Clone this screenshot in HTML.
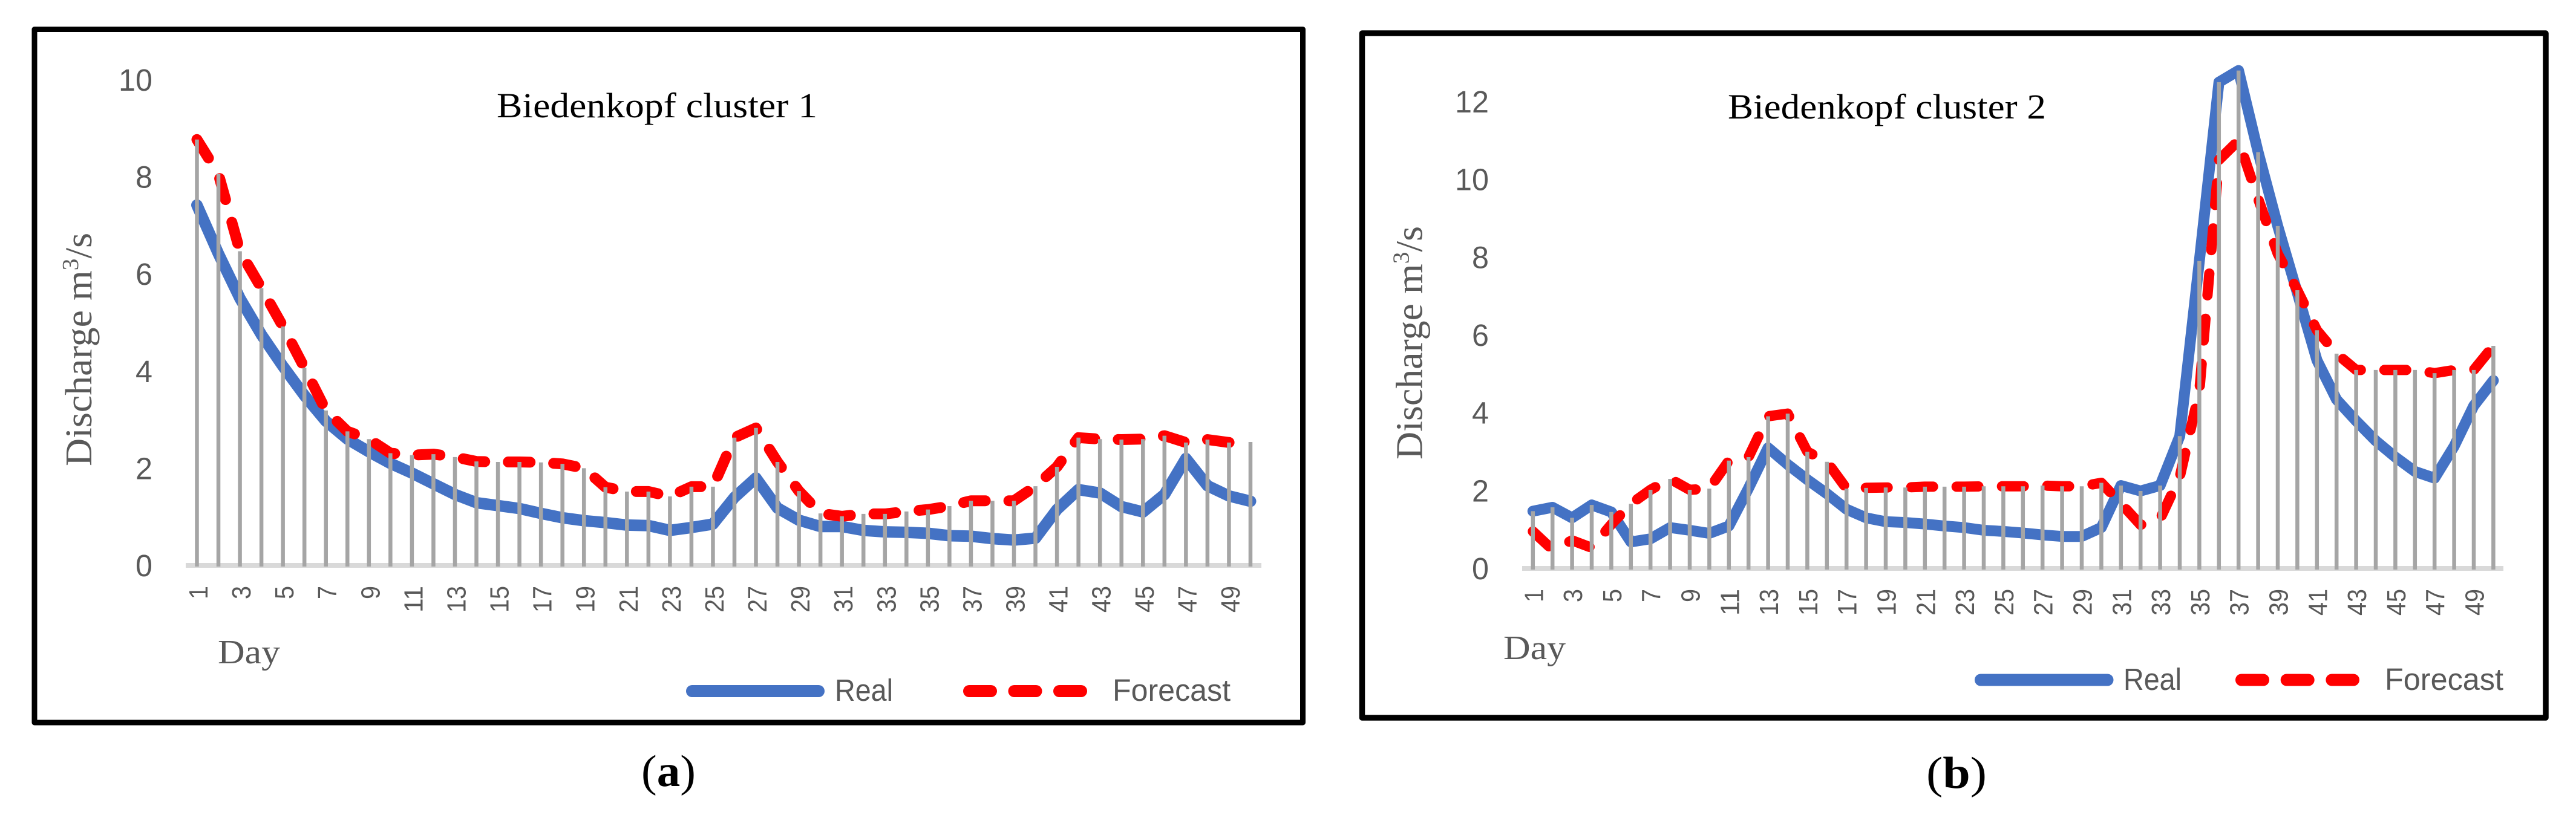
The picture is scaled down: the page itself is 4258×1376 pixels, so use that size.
<!DOCTYPE html>
<html lang="en">
<head>
<meta charset="utf-8">
<title>Biedenkopf cluster discharge forecasts</title>
<style>
html,body{margin:0;padding:0;background:#fff;width:4258px;height:1376px;overflow:hidden}
svg{display:block}
.sans{font-family:"Liberation Sans",sans-serif;fill:#595959}
.serif{font-family:"Liberation Serif",serif}
</style>
</head>
<body>
<svg id="figure" xmlns="http://www.w3.org/2000/svg" width="4258" height="1376" viewBox="0 0 4258 1376">
<rect width="4258" height="1376" fill="#fff"/>
<g id="panel-a">
<rect x="57" y="48.5" width="2096.5" height="1146.5" fill="none" stroke="#000" stroke-width="9" stroke-linejoin="round"/>
<text class="serif" x="821" y="194" font-size="58" textLength="530" lengthAdjust="spacingAndGlyphs" fill="#000">Biedenkopf cluster 1</text>
<text class="serif" transform="translate(151 771) rotate(-90)" font-size="62" textLength="386" lengthAdjust="spacingAndGlyphs" fill="#595959">Discharge m<tspan font-size="38" dy="-22">3</tspan><tspan dy="22">/s</tspan></text>
<text class="serif" x="360" y="1097" font-size="56" textLength="103" lengthAdjust="spacingAndGlyphs" fill="#595959">Day</text>
<g>
<line x1="1144" y1="1143" x2="1353" y2="1143" stroke="#4472c4" stroke-width="20" stroke-linecap="round"/>
<text class="sans" x="1380" y="1159" font-size="51" textLength="96" lengthAdjust="spacingAndGlyphs">Real</text>
<line x1="1602" y1="1143" x2="1790" y2="1143" stroke="#ff0000" stroke-width="20" stroke-linecap="round" stroke-dasharray="36 38.5"/>
<text class="sans" x="1839" y="1159" font-size="51" textLength="195" lengthAdjust="spacingAndGlyphs">Forecast</text>
</g>
</g>
<g id="panel-b">
<rect x="2251.5" y="55" width="1956.5" height="1132" fill="none" stroke="#000" stroke-width="9.5" stroke-linejoin="round"/>
<text class="serif" x="2856" y="196" font-size="58" textLength="526" lengthAdjust="spacingAndGlyphs" fill="#000">Biedenkopf cluster 2</text>
<text class="serif" transform="translate(2350.5 760) rotate(-90)" font-size="62" textLength="386" lengthAdjust="spacingAndGlyphs" fill="#595959">Discharge m<tspan font-size="38" dy="-22">3</tspan><tspan dy="22">/s</tspan></text>
<text class="serif" x="2485" y="1090" font-size="56" textLength="103" lengthAdjust="spacingAndGlyphs" fill="#595959">Day</text>
<g>
<line x1="3274" y1="1124.5" x2="3483.5" y2="1124.5" stroke="#4472c4" stroke-width="20" stroke-linecap="round"/>
<text class="sans" x="3510" y="1141" font-size="51" textLength="96" lengthAdjust="spacingAndGlyphs">Real</text>
<line x1="3705" y1="1124.5" x2="3890" y2="1124.5" stroke="#ff0000" stroke-width="20" stroke-linecap="round" stroke-dasharray="36 38.7"/>
<text class="sans" x="3942" y="1141" font-size="51" textLength="196" lengthAdjust="spacingAndGlyphs">Forecast</text>
</g>
</g>
<text class="serif" x="1060" y="1300" font-size="74" textLength="90" lengthAdjust="spacingAndGlyphs" fill="#000">(<tspan font-weight="bold">a</tspan>)</text>
<text class="serif" x="3184" y="1303" font-size="74" textLength="100" lengthAdjust="spacingAndGlyphs" fill="#000">(<tspan font-weight="bold">b</tspan>)</text>
</svg>
<script>
var days = [];
for (var d = 1; d <= 50; d++) days.push(d);

var realA = [7.42,6.42,5.5,4.75,4.1,3.5,2.97,2.6,2.34,2.1,1.9,1.68,1.46,1.29,1.23,1.17,1.07,0.98,0.92,0.88,0.83,0.82,0.72,0.78,0.85,1.4,1.8,1.18,0.93,0.8,0.8,0.72,0.69,0.68,0.66,0.61,0.6,0.55,0.52,0.56,1.15,1.56,1.49,1.21,1.1,1.46,2.2,1.64,1.43,1.32];
var forecastA = [8.77,8.06,6.47,5.71,4.92,4.07,3.19,2.76,2.6,2.31,2.27,2.29,2.23,2.14,2.13,2.13,2.12,2.09,2.0,1.61,1.52,1.52,1.42,1.62,1.62,2.63,2.83,2.13,1.53,1.07,1.01,1.06,1.06,1.11,1.15,1.22,1.33,1.33,1.33,1.63,2.03,2.63,2.6,2.59,2.6,2.67,2.53,2.59,2.53,2.54];
var yTicksA = [0,2,4,6,8,10];

var realB = [1.47,1.57,1.3,1.63,1.45,0.68,0.76,1.05,0.98,0.9,1.09,2.06,3.1,2.67,2.28,1.92,1.52,1.3,1.2,1.18,1.14,1.09,1.05,0.98,0.95,0.91,0.86,0.82,0.82,1.05,2.13,1.99,2.13,3.4,7.9,12.5,12.8,10.7,8.8,7.08,5.35,4.34,3.79,3.28,2.86,2.49,2.32,3.14,4.18,4.83];
var forecastB = [0.95,0.48,0.72,0.53,1.13,1.66,2.02,2.3,2.02,2.05,2.77,2.86,3.91,3.98,3.0,2.74,2.05,2.07,2.08,2.08,2.1,2.1,2.1,2.11,2.11,2.11,2.13,2.11,2.11,2.2,1.67,1.12,1.27,2.35,4.55,10.5,11.0,9.5,8.09,7.15,6.12,5.52,5.1,5.1,5.1,5.1,5.02,5.1,5.1,5.72];
var yTicksB = [0,2,4,6,8,10,12];

var NS = 'http://www.w3.org/2000/svg';

function addEl(parent, tag, attrs) {
  var el = document.createElementNS(NS, tag);
  for (var k in attrs) el.setAttribute(k, attrs[k]);
  parent.appendChild(el);
  return el;
}

function drawChart(parent, real, forecast, ticks, layout) {
  function xScale(day) { return layout.x1 + (day - 1) * layout.dx; }
  function yScale(v) { return layout.y0 - v * layout.unit; }

  var axis = addEl(parent, 'line', {x1: layout.axisStart, x2: layout.axisEnd, y1: layout.y0, y2: layout.y0, stroke: '#d9d9d9', 'stroke-width': 8});
  
  

  var realPts = days.map(function (d, i) { return xScale(d).toFixed(1) + ',' + yScale(real[i]).toFixed(1); }).join(' ');
  var realLine = addEl(parent, 'polyline', {points: realPts, fill: 'none', stroke: '#4472c4', 'stroke-width': layout.realWidth, 'stroke-linecap': 'round', 'stroke-linejoin': 'round'});
  
  

  var fcPts = days.map(function (d, i) { return xScale(d).toFixed(1) + ',' + yScale(forecast[i]).toFixed(1); }).join(' ');
  var fcLine = addEl(parent, 'polyline', {points: fcPts, fill: 'none', stroke: '#ff0000', 'stroke-width': layout.fcWidth, 'stroke-linecap': 'round', 'stroke-linejoin': 'round', 'stroke-dasharray': layout.dash});
  
  

  days.forEach(function (d, i) {
    var drop = addEl(parent, 'line', {x1: xScale(d), x2: xScale(d), y1: layout.y0 + 2, y2: yScale(Math.max(real[i], forecast[i])), stroke: '#a5a5a5', 'stroke-width': 6.5});
    
    
  });

  ticks.forEach(function (t) {
    var label = addEl(parent, 'text', {x: layout.tickRight, y: yScale(t) + 18, 'text-anchor': 'end', 'font-size': 51, 'class': 'sans', textLength: String(t).length * 28, lengthAdjust: 'spacingAndGlyphs'});
    label.textContent = t;
    
    
  });

  days.forEach(function (d) {
    if (d % 2 === 0) return;
    var txt = String(d);
    var len = txt.length * 22;
    var tx = xScale(d) + layout.xLabelOffset;
    var label = addEl(parent, 'text', {transform: 'translate(' + tx + ' ' + (layout.xLabelTop + len) + ') rotate(-90)', 'font-size': 44, 'class': 'sans', textLength: len, lengthAdjust: 'spacingAndGlyphs'});
    label.textContent = txt;
    
    
  });
}

drawChart(document.getElementById('panel-a'), realA, forecastA, yTicksA, {
  x1: 325.5, dx: 35.54, y0: 935, unit: 80.3, axisStart: 307, axisEnd: 2085,
  tickRight: 252, xLabelOffset: 17.5, xLabelTop: 969, realWidth: 19, fcWidth: 18, dash: '36 39'
});
drawChart(document.getElementById('panel-b'), realB, forecastB, yTicksB, {
  x1: 2533.8, dx: 32.4, y0: 940, unit: 64.33, axisStart: 2516, axisEnd: 4138,
  tickRight: 2461, xLabelOffset: 16.5, xLabelTop: 974, realWidth: 18, fcWidth: 17, dash: '36 39'
});
</script>
</body>
</html>
